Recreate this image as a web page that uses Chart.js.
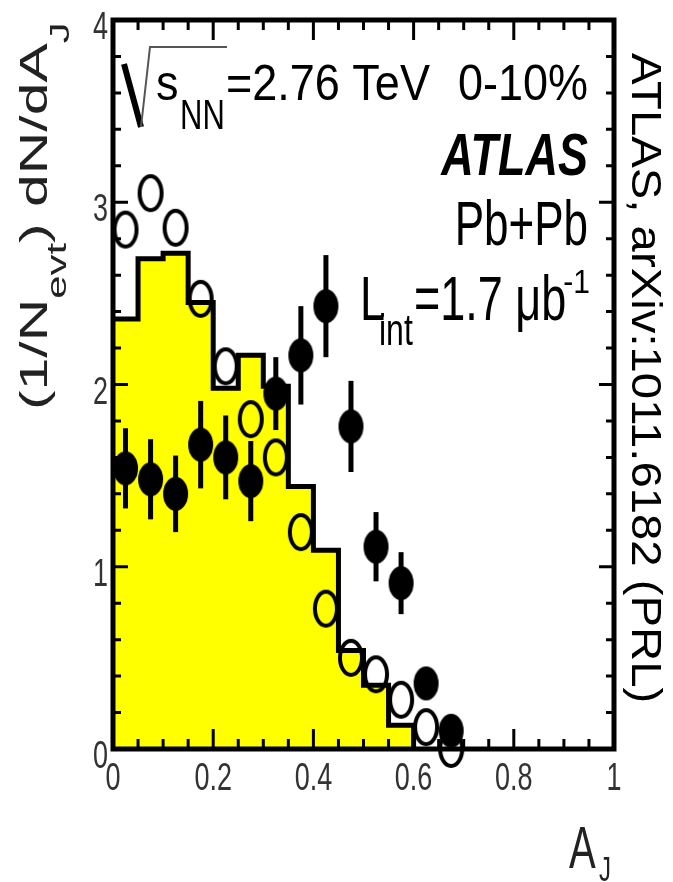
<!DOCTYPE html>
<html>
<head>
<meta charset="utf-8">
<title>ATLAS A_J 0-10%</title>
<script src="https://cdn.jsdelivr.net/npm/chart.js@4.4.0/dist/chart.umd.min.js"></script>
<style>
    html, body { margin: 0; padding: 0; background: #fff; }
    canvas { display: block; }
</style>
</head>
<body>
<canvas id="ajChart" width="673" height="882"></canvas>
<script>
// Края бинов гистограммы HIJING+PYTHIA и её значения
const binEdges = [0, 0.05, 0.1, 0.15, 0.2, 0.25, 0.3, 0.35, 0.4, 0.45, 0.5, 0.55, 0.6];
const mcValues = [2.36, 2.69, 2.72, 2.45, 1.98, 2.16, 1.99, 1.44, 1.09, 0.54, 0.35, 0.13];

// Центры бинов для точек данных
const binCenters = [0.025, 0.075, 0.125, 0.175, 0.225, 0.275, 0.325, 0.375, 0.425, 0.475, 0.525, 0.575, 0.625, 0.675];
// p+p (открытые кружки)
const ppValues = [2.85, 3.05, 2.86, 2.47, 2.10, 1.81, 1.60, 1.19, 0.77, 0.50, 0.41, 0.27, 0.12, 0.0];
// Pb+Pb (закрашенные точки) и ошибки
const pbValues = [1.54, 1.48, 1.40, 1.67, 1.60, 1.47, 1.95, 2.16, 2.43, 1.77, 1.11, 0.91, 0.36, 0.10];
const pbErrors = [0.22, 0.22, 0.21, 0.24, 0.23, 0.22, 0.20, 0.27, 0.28, 0.25, 0.19, 0.17, 0.05, 0.03];

const xTickLabels = ['0', '0.2', '0.4', '0.6', '0.8', '1'];
const yTickLabels = ['0', '1', '2', '3', '4'];

const FONT = '"Liberation Sans", Arial, Helvetica, sans-serif';

// Эллиптический маркер (картинка сильно растянута по вертикали)
function ellipseMarker(w, h, filled, lw) {
    const c = document.createElement('canvas');
    c.width = w + lw + 2;
    c.height = h + lw + 2;
    const g = c.getContext('2d');
    g.beginPath();
    g.ellipse(c.width / 2, c.height / 2, w / 2, h / 2, 0, 0, Math.PI * 2);
    if (filled) {
        g.fillStyle = '#000';
        g.fill();
    } else {
        g.lineWidth = lw;
        g.strokeStyle = '#000';
        g.stroke();
    }
    return c;
}

function stretchedText(ctx, text, x, y, opts) {
    ctx.save();
    ctx.translate(x, y);
    ctx.scale(opts.sx || 1, opts.sy || 1);
    ctx.font = `${opts.style || ''} ${opts.weight || ''} ${opts.size}px ${FONT}`;
    ctx.fillStyle = opts.color || '#000';
    ctx.textAlign = opts.align || 'left';
    ctx.textBaseline = 'alphabetic';
    ctx.fillText(text, 0, 0);
    ctx.restore();
}

// Вертикальные ошибки для Pb+Pb
const errorBarsPlugin = {
    id: 'errorBars',
    beforeDatasetDraw(chart, args) {
        if (args.index !== 0) return;
        const { ctx, scales: { x, y } } = chart;
        ctx.save();
        ctx.strokeStyle = '#000';
        ctx.lineWidth = 5;
        binCenters.forEach((c, i) => {
            const px = x.getPixelForValue(c);
            ctx.beginPath();
            ctx.moveTo(px, y.getPixelForValue(pbValues[i] - pbErrors[i]));
            ctx.lineTo(px, y.getPixelForValue(pbValues[i] + pbErrors[i]));
            ctx.stroke();
        });
        ctx.restore();
    }
};

// Рамка, засечки внутрь, подписи
const framePlugin = {
    id: 'frame',
    afterDraw(chart) {
        const { ctx, chartArea: a, scales: { x, y } } = chart;
        ctx.save();
        ctx.strokeStyle = '#000';

        // засечки
        ctx.lineWidth = 3;
        for (let i = 0; i <= 20; i++) {
            const px = x.getPixelForValue(i * 0.05);
            const len = i % 4 === 0 ? 20 : 10;
            ctx.beginPath();
            ctx.moveTo(px, a.bottom); ctx.lineTo(px, a.bottom - len);
            ctx.moveTo(px, a.top); ctx.lineTo(px, a.top + len);
            ctx.stroke();
        }
        for (let i = 0; i <= 20; i++) {
            const py = y.getPixelForValue(i * 0.2);
            const len = i % 5 === 0 ? 15 : 8;
            ctx.beginPath();
            ctx.moveTo(a.left, py); ctx.lineTo(a.left + len, py);
            ctx.moveTo(a.right, py); ctx.lineTo(a.right - len, py);
            ctx.stroke();
        }

        ctx.lineWidth = 5;
        ctx.strokeRect(a.left, a.top, a.right - a.left, a.bottom - a.top);

        // подписи осей
        xTickLabels.forEach(t => {
            stretchedText(ctx, t, x.getPixelForValue(Number(t)), 790,
                { size: 27, sy: 1.45, align: 'center', color: '#333' });
        });
        yTickLabels.forEach(t => {
            stretchedText(ctx, t, 108, y.getPixelForValue(Number(t)) + 19,
                { size: 27, sy: 1.45, align: 'right', color: '#333' });
        });

        // A_J
        stretchedText(ctx, 'A', 569, 868, { size: 40, sy: 1.5, color: '#222' });
        stretchedText(ctx, 'J', 599, 881, { size: 24, sy: 1.45, color: '#222' });

        // (1/N_evt) dN/dA_J
        ctx.save();
        ctx.translate(47, 410);
        ctx.rotate(-Math.PI / 2);
        ctx.scale(1.55, 1);
        ctx.fillStyle = '#222';
        let cx = 0;
        [['(1/N', 38, 0], ['evt', 27, 19], [') dN/dA', 38, 0], ['J', 27, 22]].forEach(([t, s, dy]) => {
            ctx.font = `${s}px ${FONT}`;
            ctx.fillText(t, cx, dy);
            cx += ctx.measureText(t).width;
        });
        ctx.restore();

        // ссылка справа
        ctx.save();
        ctx.translate(632, 53);
        ctx.rotate(Math.PI / 2);
        ctx.scale(1.1, 1);
        ctx.font = `43px ${FONT}`;
        ctx.fillStyle = '#000';
        ctx.fillText('ATLAS, arXiv:1011.6182 (PRL)', 0, 0);
        ctx.restore();

        // корень
        ctx.lineCap = 'butt';
        ctx.lineWidth = 6;
        ctx.beginPath();
        ctx.moveTo(124, 64); ctx.lineTo(141, 127);
        ctx.stroke();
        ctx.lineWidth = 2;
        ctx.strokeStyle = '#555';
        ctx.beginPath();
        ctx.moveTo(141, 127); ctx.lineTo(150, 47); ctx.lineTo(227, 47);
        ctx.stroke();

        stretchedText(ctx, 's', 156, 100, { size: 45, sy: 1.1 });
        stretchedText(ctx, 'NN', 180, 129, { size: 31, sy: 1.35 });
        stretchedText(ctx, '=2.76 TeV', 226, 100, { size: 45, sy: 1.1 });
        stretchedText(ctx, '0-10%', 588, 100, { size: 45, sy: 1.1, align: 'right' });
        stretchedText(ctx, 'ATLAS', 588, 175, { size: 45, sy: 1.3, align: 'right', weight: 'bold', style: 'italic' });
        stretchedText(ctx, 'Pb+Pb', 588, 245, { size: 44, sy: 1.43, align: 'right' });
        stretchedText(ctx, 'L', 360, 320, { size: 45, sy: 1.4 });
        stretchedText(ctx, 'int', 379, 345, { size: 32, sy: 1.4 });
        stretchedText(ctx, '=1.7 \u03bcb', 414, 320, { size: 45, sy: 1.4 });
        stretchedText(ctx, '-1', 590, 293, { size: 30, sy: 1.1, align: 'right' });

        ctx.restore();
    }
};

class AjChart {
    constructor(canvasId) {
        this.canvas = document.getElementById(canvasId);
        this.initChart();
    }

    buildHistogram() {
        const pts = mcValues.map((v, i) => ({ x: binEdges[i], y: v }));
        pts.push({ x: binEdges[binEdges.length - 1], y: 0 });
        return pts;
    }

    initChart() {
        const filled = ellipseMarker(25, 34, true, 0);
        const open = ellipseMarker(22, 34, false, 4);

        this.chart = new Chart(this.canvas, {
            type: 'line',
            data: {
                datasets: [
                    {
                        label: 'Pb+Pb',
                        data: binCenters.map((c, i) => ({ x: c, y: pbValues[i] })),
                        showLine: false,
                        pointStyle: filled,
                        pointRadius: 12,
                        clip: false,
                        order: 1
                    },
                    {
                        label: 'p+p',
                        data: binCenters.map((c, i) => ({ x: c, y: ppValues[i] })),
                        showLine: false,
                        pointStyle: open,
                        pointRadius: 12,
                        clip: false,
                        order: 2
                    },
                    {
                        label: 'HIJING+PYTHIA',
                        data: this.buildHistogram(),
                        stepped: 'before',
                        borderColor: '#000',
                        borderWidth: 5,
                        borderJoinStyle: 'miter',
                        backgroundColor: '#ffff00',
                        fill: 'origin',
                        pointRadius: 0,
                        order: 3
                    }
                ]
            },
            options: {
                responsive: false,
                animation: false,
                events: [],
                layout: { padding: { top: 20, right: 59, left: 0, bottom: 0 } },
                plugins: {
                    legend: { display: false },
                    tooltip: { enabled: false }
                },
                scales: {
                    x: {
                        type: 'linear',
                        min: 0,
                        max: 1,
                        grid: { display: false },
                        border: { display: false },
                        ticks: { display: false },
                        afterFit: s => { s.height = 133; }
                    },
                    y: {
                        min: 0,
                        max: 4,
                        grid: { display: false },
                        border: { display: false },
                        ticks: { display: false },
                        afterFit: s => { s.width = 113; }
                    }
                }
            },
            plugins: [errorBarsPlugin, framePlugin]
        });
    }
}

document.addEventListener('DOMContentLoaded', () => {
    new AjChart('ajChart');
});
</script>
</body>
</html>
